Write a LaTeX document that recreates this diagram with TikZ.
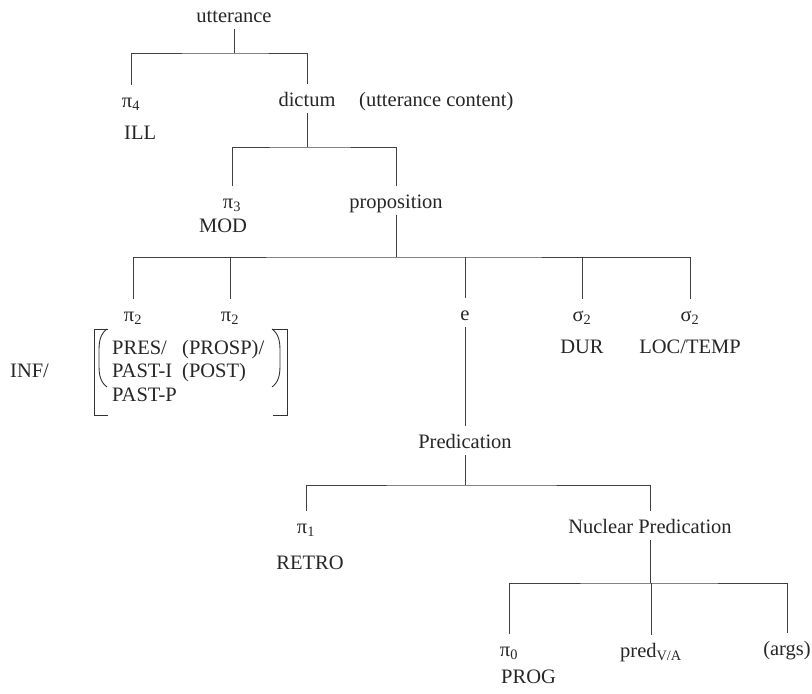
\documentclass[tikz,border=0pt]{standalone}
\usepackage{fontspec}
\setmainfont{Liberation Serif}
\usepackage{tikz}

\tikzset{
  lbl/.style={anchor=base, text height=18pt, text depth=3pt, inner xsep=2pt, inner ysep=4pt, text=black!85},
  tree/.style={line width=0.8pt, draw=black!75},
  brk/.style={line width=0.9pt, draw=black!80},
}

\begin{document}
\fontsize{20.5}{24}\selectfont
\begin{tikzpicture}[x=1pt, y=-1pt]
        \useasboundingbox (0,0) rectangle (812,694);

        % Root
        \node[lbl] (utt) at (234,22) {utterance};

        % Illocution and dictum
        \node[lbl] (pifour) at (131,107) {π\textsubscript{4}};
        \node[lbl, anchor=base west] (ill) at (122,139) {ILL};
        \node[lbl] (dictum) at (307,106) {dictum};
        \node[lbl, anchor=base west] (content) at (357,106) {(utterance content)};

        % Modality and proposition
        \node[lbl] (pithree) at (232,208) {π\textsubscript{3}};
        \node[lbl] (mod) at (223,232) {MOD};
        \node[lbl] (prop) at (396,208) {proposition};

        % Tense, event and satellites
        \node[lbl] (pitwoa) at (133,321) {π\textsubscript{2}};
        \node[lbl] (pitwob) at (230,321) {π\textsubscript{2}};
        \node[lbl] (event) at (465,320) {e};
        \node[lbl] (sigmaa) at (582,321) {σ\textsubscript{2}};
        \node[lbl] (dur) at (582,353) {DUR};
        \node[lbl] (sigmab) at (690,321) {σ\textsubscript{2}};
        \node[lbl] (loctemp) at (690,353) {LOC/TEMP};

        % Tense values
        \node[lbl, anchor=base west] (inf) at (8,377) {INF/};
        \node[lbl, anchor=base west] (pres) at (110,354) {PRES/};
        \node[lbl, anchor=base west] (pasti) at (110,377) {PAST-I};
        \node[lbl, anchor=base west] (pastp) at (110,401) {PAST-P};
        \node[lbl, anchor=base west] (prosp) at (180,354) {(PROSP)/};
        \node[lbl, anchor=base west] (post) at (180,377) {(POST)};

        % Brackets and parentheses
        \draw[brk] (108,329) -- (94,329) -- (94,415) -- (108,415);
        \draw[brk] (273,329) -- (287,329) -- (287,415) -- (273,415);
        \draw[brk] (107,329) .. controls (100,334) and (99,342) .. (99,351) -- (99,365) .. controls (99,374) and (100,382) .. (107,387);
        \draw[brk] (272,329) .. controls (279,334) and (280,342) .. (280,351) -- (280,365) .. controls (280,374) and (279,382) .. (272,387);

        % Predication
        \node[lbl] (predic) at (465,448) {Predication};
        \node[lbl] (pione) at (306,533) {π\textsubscript{1}};
        \node[lbl] (retro) at (310,569) {RETRO};
        \node[lbl] (nucpred) at (650,533) {Nuclear Predication};

        % Nuclear predication
        \node[lbl] (pizero) at (509,656) {π\textsubscript{0}};
        \node[lbl, anchor=base west] (prog) at (499,683) {PROG};
        \node[lbl] (predva) at (651,657) {pred\textsubscript{V/A}};
        \node[lbl] (args) at (787,655) {(args)};

        % Branch bars
        \coordinate (bara) at (231,53);
        \coordinate (barb) at (306,147);
        \coordinate (barc) at (396,257);
        \coordinate (bard) at (465,485);
        \coordinate (bare) at (650,583);

        % Connections
        \draw[tree] (utt.south) -- (utt.south |- bara);
        \draw[tree] (pifour.north) |- (bara) -| (dictum.north);

        \draw[tree] (dictum.south) -- (dictum.south |- barb);
        \draw[tree] (pithree.north) |- (barb) -| (prop.north);

        \draw[tree] (prop.south) -- (prop.south |- barc);
        \draw[tree] (pitwoa.north) |- (barc) -| (sigmab.north);
        \draw[tree] (pitwob.north) -- (pitwob.north |- barc);
        \draw[tree] (event.north) -- (event.north |- barc);
        \draw[tree] (sigmaa.north) -- (sigmaa.north |- barc);

        \draw[tree] (event.south) -- (predic.north);
        \draw[tree] (predic.south) -- (predic.south |- bard);
        \draw[tree] (pione.north) |- (bard) -| (nucpred.north);

        \draw[tree] (nucpred.south) -- (nucpred.south |- bare);
        \draw[tree] (pizero.north) |- (bare) -| (args.north);
        \draw[tree] (predva.north) -- (predva.north |- bare);
\end{tikzpicture}
\end{document}
